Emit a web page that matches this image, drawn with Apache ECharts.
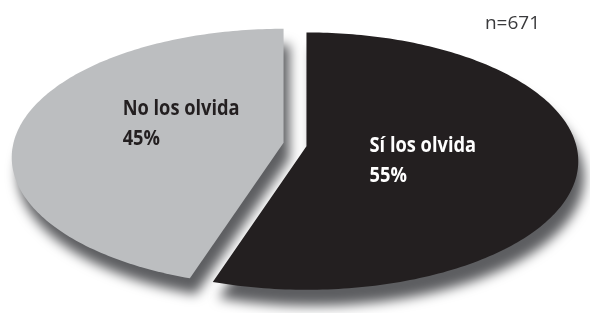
<!DOCTYPE html>
<html>
<head>
<meta charset="utf-8">
<script src="https://cdn.jsdelivr.net/npm/echarts@6/dist/echarts.min.js"></script>
<style>
  html, body { margin: 0; padding: 0; background: #ffffff; }
  #chart { width: 590px; height: 313px; }
</style>
</head>
<body>
<div id="chart"></div>
<script>
// data
const categories = ['Sí los olvida', 'No los olvida'];
const values = [55, 45];
const sliceColors = ['#231f20', '#bcbec0'];
const labelColors = ['#ffffff', '#231f20'];
const sampleNote = 'n=671';

const total = values.reduce((a, b) => a + b, 0);

// look of the tilted pie
const RX = 270, RY = 127, PERSP = 0.115, EXPLODE = 11.6;
const LABEL_FONT = "'Open Sans', sans-serif";

function proj(deg) {
  const a = deg * Math.PI / 180;
  const d = 1 + PERSP * Math.sin(a);
  return [RX * Math.cos(a) / d, -RY * Math.sin(a) / d];
}

const measureCtx = document.createElement('canvas').getContext('2d');

function renderSlice(params, api) {
  const i = params.dataIndex;
  let before = 0;
  for (let k = 0; k < i; k++) before += values[k];
  const start = 90 - before / total * 360;
  const end = start - api.value(0) / total * 360;
  const mid = (start + end) / 2;
  const m = mid * Math.PI / 180;
  const cx = api.getWidth() * 0.5 + EXPLODE * Math.cos(m);
  const cy = 144.5 - EXPLODE * Math.sin(m);

  const pts = [[cx, cy]];
  for (let a = start; a >= end; a -= 1) {
    const p = proj(a);
    pts.push([cx + p[0], cy + p[1]]);
  }
  const pe = proj(end);
  pts.push([cx + pe[0], cy + pe[1]]);

  // label: centred partway along the bisector, lines left aligned
  const font = 'bold 22px ' + LABEL_FONT;
  const squeeze = 0.83;
  measureCtx.font = font;
  const w = measureCtx.measureText(categories[i]).width * squeeze;
  const lx = cx + 0.41 * proj(mid)[0] + 5;
  const ly = cy - 108 * Math.sin(m) - 2;

  return {
    type: 'group',
    children: [
      {
        type: 'polygon',
        z2: i === 0 ? 3 : 1,
        shape: { points: pts },
        style: {
          fill: sliceColors[i],
          shadowBlur: 12,
          shadowColor: '#5d5e61',
          shadowOffsetX: 6,
          shadowOffsetY: 16
        }
      },
      {
        type: 'text',
        z2: 10,
        x: lx - w / 2,
        y: ly,
        scaleX: squeeze,
        style: {
          text: categories[i] + '\n' + api.value(0) + '%',
          fill: labelColors[i],
          font: font,
          lineHeight: 30,
          align: 'left',
          verticalAlign: 'middle'
        }
      }
    ]
  };
}

const chart = echarts.init(document.getElementById('chart'), null, { renderer: 'canvas' });
chart.setOption({
  animation: false,
  backgroundColor: '#ffffff',
  title: {
    text: sampleNote,
    right: 45,
    top: 9,
    textStyle: {
      fontFamily: "'Open Sans', sans-serif",
      fontWeight: 'normal',
      fontSize: 19,
      color: '#3a3a3c'
    }
  },
  series: [{
    type: 'custom',
    coordinateSystem: 'none',
    renderItem: renderSlice,
    data: values.map((v, i) => ({ name: categories[i], value: [v] }))
  }]
});
</script>
</body>
</html>
